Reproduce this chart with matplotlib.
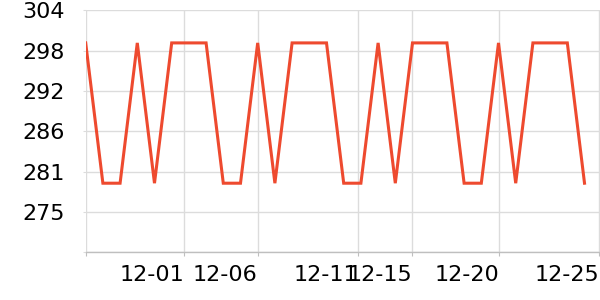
import numpy as np
import matplotlib
matplotlib.use("Agg")
import matplotlib.pyplot as plt

# values (30 evenly spaced samples)
values = [299, 279, 279, 299, 279, 299, 299, 299, 279, 279,
          299, 279, 299, 299, 299, 279, 279, 299, 279, 299,
          299, 299, 279, 279, 299, 279, 299, 299, 299, 279]

# date ticks sit at uneven sample positions
tick_pos = [0, 5.73, 10.0, 15.85, 18.99, 24.05, 29.84]
tick_labels = ["", "12-01", "12-06", "12-11", "12-15", "12-20", "12-25"]

y_ticks = np.linspace(269.15, 303.65, 7)
y_labels = ["", "275", "281", "286", "292", "298", "304"]

fig = plt.figure(figsize=(6, 3), dpi=100)
ax = fig.add_axes([0.1428, 0.159, 1.0 - 0.1428, 0.9657 - 0.159])

x = np.arange(len(values))
ax.plot(x, values, color="#ee4a2f", lw=2.2, solid_joinstyle="miter", zorder=3)

ax.set_xlim(0, 29.9)
ax.set_ylim(y_ticks[0], y_ticks[-1])

ax.set_yticks(y_ticks)
ax.set_yticklabels(y_labels)
ax.set_xticks(tick_pos)
ax.set_xticklabels(tick_labels, ha="right")

ax.grid(True, color="#dcdcdc", lw=1)
ax.set_axisbelow(True)
for s in ["top", "right", "left"]:
    ax.spines[s].set_visible(False)
ax.spines["bottom"].set_color("#bfbfbf")
ax.spines["bottom"].set_linewidth(1)

ax.tick_params(axis="y", length=2, color="#dcdcdc", pad=13, labelsize=16)
ax.tick_params(axis="x", length=3, color="#bfbfbf", pad=6, labelsize=16)

fig.savefig("out.png", dpi=100)
